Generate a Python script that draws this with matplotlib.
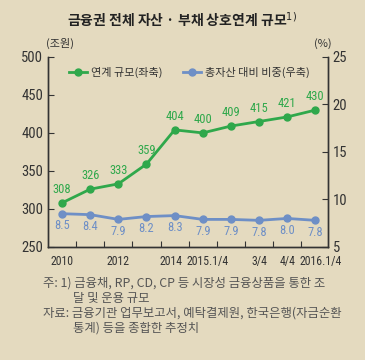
import matplotlib
matplotlib.use("Agg")
import matplotlib.pyplot as plt
from matplotlib.lines import Line2D
from matplotlib.transforms import ScaledTranslation

plt.rcParams['font.family'] = ['Noto Sans CJK KR', 'DejaVu Sans']
narrow = ['Roboto Condensed', 'Noto Sans CJK KR', 'DejaVu Sans']

# data
periods = ["2010", "2011", "2012", "2013", "2014", "2015.1/4", "2/4", "3/4", "4/4", "2016.1/4"]
tick_labels = ["2010", "", "2012", "", "2014", "2015.1/4", "", "3/4", "4/4", "2016.1/4"]
link_size = [308, 326, 333, 359, 404, 400, 409, 415, 421, 430]       # 조원, left axis
share_pct = [8.5, 8.4, 7.9, 8.2, 8.3, 7.9, 7.9, 7.8, 8.0, 7.8]       # %, right axis

bg = "#e4dabf"
green = "#2fa84b"
blue = "#6e8fc6"
txt = "#333333"

fig = plt.figure(figsize=(3.65, 3.6), dpi=100, facecolor=bg)
ax = fig.add_axes([0.1315, 0.314, 0.767, 0.528])
ax.set_facecolor(bg)
ax2 = ax.twinx()

x = list(range(len(periods)))
ax.plot(x, link_size, color=green, lw=2, marker="o", ms=5, zorder=3)
ax2.plot(x, share_pct, color=blue, lw=2, marker="o", ms=5, zorder=3)

for xi, v in zip(x, link_size):
    ax.annotate(str(v), (xi, v), xytext=(0, 5), textcoords="offset points",
                ha="center", va="bottom", color=green, fontsize=9, family=narrow)
for xi, v in zip(x, share_pct):
    ax2.annotate(f"{v:.1f}", (xi, v), xytext=(0, -4), textcoords="offset points",
                 ha="center", va="top", color=blue, fontsize=9, family=narrow)

ax.set_xlim(-0.5, 9.45)
ax.set_ylim(250, 500)
ax2.set_ylim(5, 25)
ax.set_yticks([250, 300, 350, 400, 450, 500])
ax2.set_yticks([5, 10, 15, 20, 25])

ax.set_xticks([i + 0.5 for i in range(9)])
ax.set_xticklabels([])
ax.set_xticks(x, minor=True)
ax.set_xticklabels(tick_labels, minor=True, family=narrow)
ax.tick_params(axis="x", which="major", direction="in", length=4, color=txt)
ax.tick_params(axis="x", which="minor", length=0, labelsize=8.5, colors=txt, pad=6)
ax.tick_params(axis="y", direction="in", length=4, labelsize=10.5, colors=txt)
ax2.tick_params(axis="y", direction="in", length=4, labelsize=10.5, colors=txt)
for lab in ax.get_yticklabels() + ax2.get_yticklabels():
    lab.set_family(narrow)

# nudge crowded x labels apart like the original
shifts = {"2014": -4, "2015.1/4": 5, "2016.1/4": 5}
for lab in ax.get_xticklabels(minor=True):
    dx = shifts.get(lab.get_text(), 0)
    if dx:
        lab.set_transform(lab.get_transform() + ScaledTranslation(dx / 100, 0, fig.dpi_scale_trans))

for a in (ax, ax2):
    a.spines["top"].set_visible(False)
    for s in ("left", "right", "bottom"):
        a.spines[s].set_color(txt)
        a.spines[s].set_linewidth(1)

handles = [Line2D([], [], color=green, lw=2, marker="o", ms=5),
           Line2D([], [], color=blue, lw=2, marker="o", ms=5)]
ax.legend(handles, ["연계 규모(좌축)", "총자산 대비 비중(우축)"], loc="upper left",
          bbox_to_anchor=(0.04, 1.0), ncol=2, frameon=False, fontsize=8,
          handlelength=1.6, handletextpad=0.4, columnspacing=1.8, labelcolor=txt)

fig.text(0.5, 0.945, "금융권 전체 자산 · 부채 상호연계 규모$^{1)}$", ha="center", va="center",
         fontsize=10, fontweight="bold", color="#222222")
fig.text(0.165, 0.878, "(조원)", ha="center", va="center", fontsize=8, color=txt)
fig.text(0.885, 0.878, "(%)", ha="center", va="center", fontsize=8, color=txt)

notes = [
    (0.118, 0.214, "주: 1) 금융채, RP, CD, CP 등 시장성 금융상품을 통한 조"),
    (0.200, 0.170, "달 및 운용 규모"),
    (0.118, 0.131, "자료: 금융기관 업무보고서, 예탁결제원, 한국은행(자금순환"),
    (0.200, 0.090, "통계) 등을 종합한 추정치"),
]
for nx, ny, t in notes:
    fig.text(nx, ny, t, ha="left", va="center", fontsize=8.9, color="#555555")

fig.savefig("out.png", dpi=100, facecolor=bg)
